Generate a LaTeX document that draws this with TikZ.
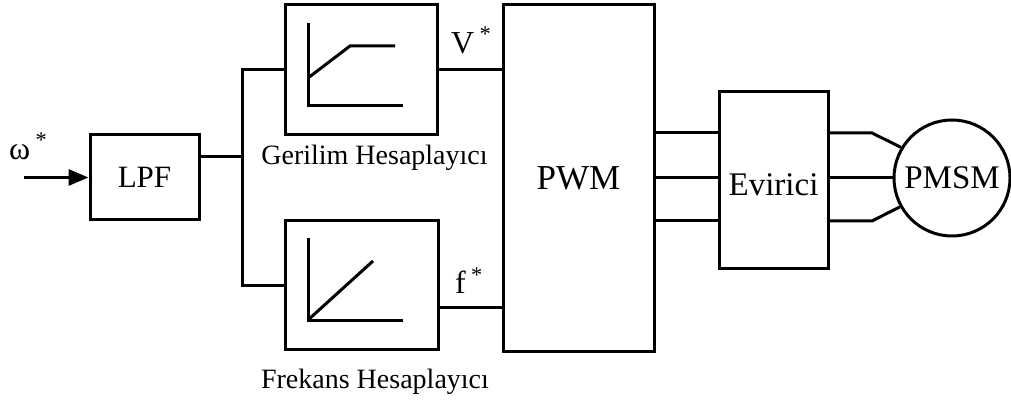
\documentclass[tikz,border=0pt]{standalone}
\usepackage{fontspec}
\setmainfont{Liberation Serif}
\usetikzlibrary{arrows.meta}
\tikzset{
  blk/.style={draw, line width=3pt, inner sep=0pt, rectangle},
  wire/.style={line width=3pt},
  lbl/.style={inner sep=0pt, font=\fontsize{28}{30}\selectfont},
}
\begin{document}
\begin{tikzpicture}[x=1pt, y=-1pt, line join=miter]
\useasboundingbox (0,0) rectangle (1011,403);
% blocks
\node[blk, minimum width=109pt, minimum height=85pt, font=\fontsize{31}{32}\selectfont] (lpf) at (144.5,177.5) {LPF};
\node[blk, minimum width=152pt, minimum height=130pt] (ger) at (361,70) {};
\node[blk, minimum width=153pt, minimum height=128pt] (frek) at (361.5,285) {};
\node[blk, minimum width=151pt, minimum height=346pt, font=\fontsize{35}{36}\selectfont] (pwm) at (578.5,178) {PWM};
\node[blk, minimum width=109pt, minimum height=176pt] (evi) at (773.5,180) {};
\node[lbl, font=\fontsize{33}{35}\selectfont] (evit) at ([yshift=-5pt]evi.center) {Evirici};
\node[draw, line width=3pt, circle, minimum size=116pt, inner sep=0pt, font=\fontsize{33}{35}\selectfont] (pmsm) at (952,178) {PMSM};
% inner characteristic curves
\draw[wire] (308,23) -- (308,106) -- (403,106);
\draw[wire] (308,78) -- (350,46) -- (395,46);
\draw[wire] (308,238) -- (308,320) -- (403,320);
\draw[wire] (308,320) -- (373,261);
% labels
\node[lbl] (gl) at (374.5,158) {Gerilim Hesaplayıcı};
\node[lbl] (fl) at (375,382) {Frekans Hesaplayıcı};
\node[lbl, font=\fontsize{32}{34}\selectfont, anchor=base west] (om) at (9,160) {ω\,\raisebox{3pt}{\textsuperscript{*}}};
\node[lbl, font=\fontsize{32}{34}\selectfont, anchor=base west] (vs) at (451,54) {V\,\raisebox{3pt}{\textsuperscript{*}}};
\node[lbl, font=\fontsize{32}{34}\selectfont, anchor=base west] (fs) at (455,293) {f\,\raisebox{1pt}{\textsuperscript{*}}};
% connectors
\coordinate (in) at (24,177.5);
\draw[wire, -{Triangle[length=20pt,width=16pt]}] (in) -- (lpf.west);
\coordinate (j) at (242,157);
\draw[wire] (lpf.east |- j) -- (j);
\draw[wire] (ger.west) -| (j) |- (frek.west);
\draw[wire] (ger.east) -- (ger.east -| pwm.west);
\coordinate (fo) at (438,307);
\draw[wire] (fo) -- (fo -| pwm.west);
\foreach \yy in {133,178,221}{
  \draw[wire] (pwm.east |- 0,\yy) -- (evi.west |- 0,\yy);
}
\coordinate (k1) at (872,133);
\coordinate (k3) at (872,221);
\draw[wire] (evi.east |- k1) -- (k1) -- (pmsm.149);
\draw[wire] (evi.east |- pmsm.west) -- (pmsm.west);
\draw[wire] (evi.east |- k3) -- (k3) -- (pmsm.209);
\end{tikzpicture}
\end{document}
